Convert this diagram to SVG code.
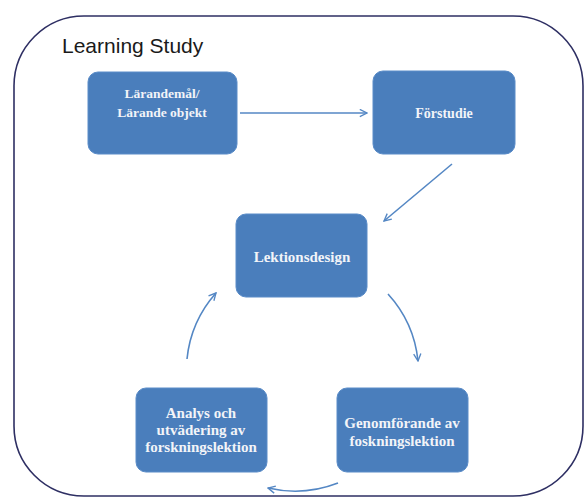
<svg xmlns="http://www.w3.org/2000/svg" width="585" height="497" viewBox="0 0 585 497">
<style>
.frame{fill:#ffffff;stroke:#2e2f63;stroke-width:1.6}
.node rect{fill:#4a7ebc;stroke:#5a8cc8;stroke-width:1}
.node text{font-family:"Liberation Serif","DejaVu Serif",serif;font-weight:bold;fill:#f2f4f8;text-anchor:middle}
.conn{fill:none;stroke:#5487c4;stroke-width:1.6;marker-end:url(#arr)}
.title{font-family:"Liberation Sans",Arial,sans-serif;font-size:21px;fill:#1a1a1a}
</style>
<defs>
<marker id="arr" viewBox="0 0 10 10" refX="9" refY="5" markerWidth="9" markerHeight="9" markerUnits="userSpaceOnUse" orient="auto">
<path d="M1,1 L9,5 L1,9" fill="none" stroke="#5487c4" stroke-width="1.5"/>
</marker>
</defs>
<rect width="585" height="497" fill="#ffffff"/>
<rect class="frame" x="14" y="16" width="569" height="480" rx="70" ry="70"/>
<text class="title" x="62" y="53">Learning Study</text>
<g id="n-larandemal" class="node">
<rect x="88" y="72" width="149" height="82" rx="10"/>
<text x="162" y="98" font-size="13.5">Lärandemål/</text>
<text x="162" y="117" font-size="13.5">Lärande objekt</text>
</g>
<g id="n-forstudie" class="node">
<rect x="373" y="71" width="142" height="83" rx="10"/>
<text x="444" y="118" font-size="14">Förstudie</text>
</g>
<g id="n-lektionsdesign" class="node">
<rect x="236" y="214" width="131" height="83" rx="10"/>
<text x="302" y="262" font-size="15">Lektionsdesign</text>
</g>
<g id="n-genomforande" class="node">
<rect x="337" y="388" width="131" height="84" rx="10"/>
<text x="402" y="428" font-size="15">Genomförande av</text>
<text x="402" y="446" font-size="15">foskningslektion</text>
</g>
<g id="n-analys" class="node">
<rect x="136" y="388" width="131" height="84" rx="10"/>
<text x="201" y="418" font-size="15">Analys och</text>
<text x="201" y="435" font-size="15">utvädering av</text>
<text x="201" y="452" font-size="15">forskningslektion</text>
</g>
<g id="connectors">
<path class="conn" d="M240,113 L367,113"/>
<path class="conn" d="M452,164 L384,221"/>
<path class="conn" d="M187,359 A117,117 0 0 1 216,293"/>
<path class="conn" d="M388,294 A117,117 0 0 1 418,361"/>
<path class="conn" d="M338,483 A119,119 0 0 1 268,488"/>
</g>
</svg>
